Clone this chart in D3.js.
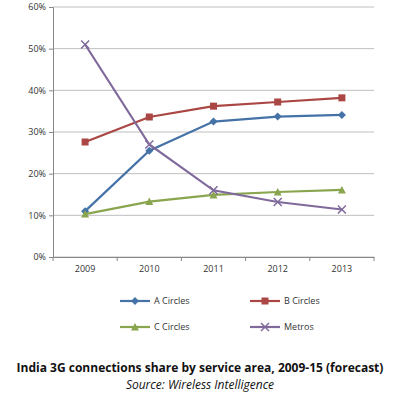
<!DOCTYPE html>
<html><head><meta charset="utf-8">
<script src="https://cdn.jsdelivr.net/npm/d3@7"></script>
<style>body{margin:0;background:#fff}text{font-family:"Open Sans",sans-serif}</style>
</head><body><svg id="c" width="400" height="400"></svg>
<script>
var years = ["2009", "2010", "2011", "2012", "2013"];
var aCircles = [11.0, 25.5, 32.5, 33.7, 34.1];
var bCircles = [27.6, 33.6, 36.2, 37.2, 38.2];
var cCircles = [10.3, 13.3, 14.9, 15.6, 16.1];
var metros = [51.0, 27.0, 16.0, 13.2, 11.4];
var yTicks = [0, 10, 20, 30, 40, 50, 60];

var series = [
  {name: "A Circles", values: aCircles, color: "#4572A7", shape: "diamond"},
  {name: "B Circles", values: bCircles, color: "#AA4643", shape: "square"},
  {name: "C Circles", values: cCircles, color: "#89A54E", shape: "triangle"},
  {name: "Metros", values: metros, color: "#80699B", shape: "x"}
];

var svg = d3.select("#c");
var x = d3.scaleBand().domain(years).range([53, 374]);
var y = d3.scaleLinear().domain([0, 60]).range([257, 7]);

// gridlines
svg.selectAll("line.grid").data(yTicks).enter().append("line")
  .attr("x1", 53).attr("x2", 374)
  .attr("y1", function(d) { return y(d); }).attr("y2", function(d) { return y(d); })
  .attr("stroke", "#bfbfbf").attr("stroke-width", 1);

var yAxis = svg.append("g").attr("transform", "translate(53,0)")
  .call(d3.axisLeft(y).tickValues(yTicks).tickFormat(function(d) { return d + "%"; }).tickSize(4));
yAxis.selectAll("text").attr("font-size", 9).attr("fill", "#333");
yAxis.selectAll("line,path").attr("stroke", "#888");

var xAxis = svg.append("g").attr("transform", "translate(0,257)")
  .call(d3.axisBottom(x).tickSize(0).tickPadding(9));
xAxis.selectAll("text").attr("font-size", 9).attr("fill", "#333");
xAxis.select("path").attr("stroke", "#888");
xAxis.selectAll("line.sep").data(x.domain().concat(["end"])).enter().append("line")
  .attr("x1", function(d, i) { return 53 + i * x.bandwidth(); })
  .attr("x2", function(d, i) { return 53 + i * x.bandwidth(); })
  .attr("y1", 0).attr("y2", 4).attr("stroke", "#888");

function marker(g, shape, color) {
  if (shape === "diamond") g.append("path").attr("d", "M0,-4L4,0L0,4L-4,0Z").attr("fill", color);
  else if (shape === "square") g.append("rect").attr("x", -3.5).attr("y", -3.5).attr("width", 7).attr("height", 7).attr("fill", color);
  else if (shape === "triangle") g.append("path").attr("d", "M0,-4L4,3.5L-4,3.5Z").attr("fill", color);
  else g.append("path").attr("d", "M-4,-4L4,4M-4,4L4,-4").attr("stroke", color).attr("stroke-width", 1.5);
}

var line = d3.line()
  .x(function(d, i) { return x(years[i]) + x.bandwidth() / 2; })
  .y(function(d) { return y(d); });

series.forEach(function(s) {
  svg.append("path").attr("d", line(s.values)).attr("fill", "none")
    .attr("stroke", s.color).attr("stroke-width", 2.2);
  s.values.forEach(function(v, i) {
    var g = svg.append("g").attr("transform", "translate(" + (x(years[i]) + x.bandwidth() / 2) + "," + y(v) + ")");
    marker(g, s.shape, s.color);
  });
});

// legend
series.forEach(function(s, i) {
  var lx = i % 2 === 0 ? 120 : 250, ly = i < 2 ? 301 : 327;
  svg.append("line").attr("x1", lx).attr("x2", lx + 30).attr("y1", ly).attr("y2", ly)
    .attr("stroke", s.color).attr("stroke-width", 2.2);
  marker(svg.append("g").attr("transform", "translate(" + (lx + 15) + "," + ly + ")"), s.shape, s.color);
  svg.append("text").attr("x", lx + 34).attr("y", ly + 3).attr("font-size", 9).attr("fill", "#333").text(s.name);
});

svg.append("text").attr("x", 200).attr("y", 372).attr("text-anchor", "middle")
  .attr("font-size", 12).attr("font-weight", "bold").attr("fill", "#111")
  .text("India 3G connections share by service area, 2009-15 (forecast)");
svg.append("text").attr("x", 200).attr("y", 389).attr("text-anchor", "middle")
  .attr("font-size", 12).attr("font-style", "italic").attr("fill", "#111")
  .text("Source: Wireless Intelligence");
</script></body></html>
